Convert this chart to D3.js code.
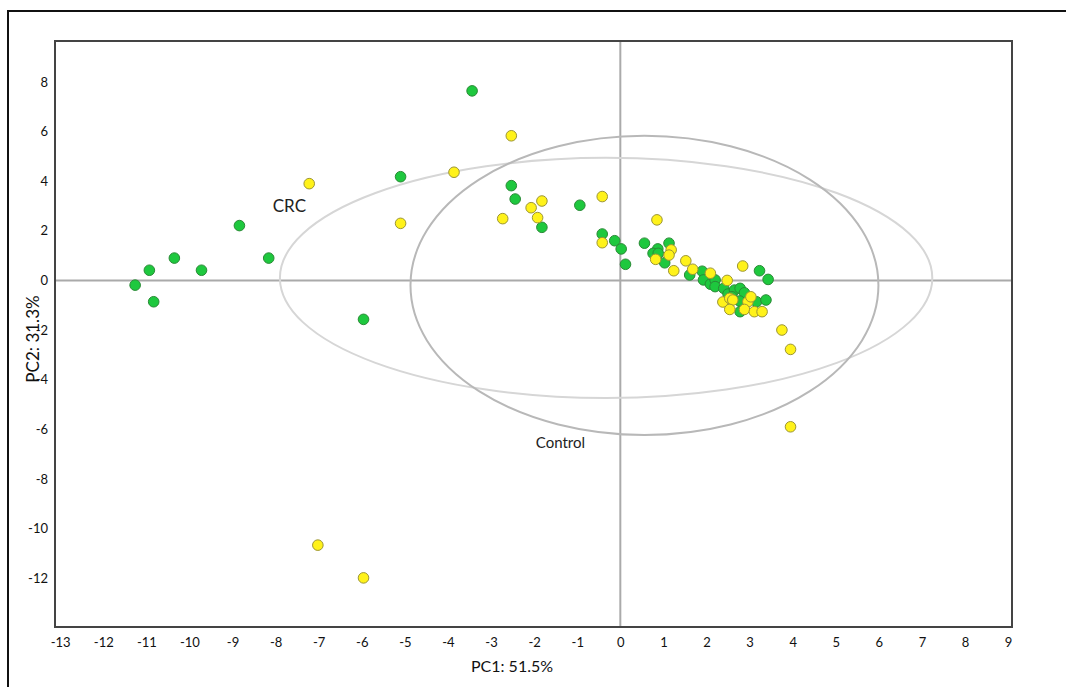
<!DOCTYPE html>
<html>
<head>
<meta charset="utf-8">
<script src="https://cdn.jsdelivr.net/npm/d3@7"></script>
<style>
  body { margin: 0; background: #fff; }
  svg { display: block; font-family: Lato, "Open Sans", sans-serif; }
</style>
</head>
<body>
<svg id="chart" width="1066" height="687"></svg>
<script>
// PC1 / PC2 scores
const greenX = [-3.44, -5.10, -2.53, -2.44, -1.82, -0.94, -0.42, -0.13, 0.02, 0.12,
  0.56, 0.87, 0.76, 0.88, 1.13, 1.03, 1.61, 1.90, 1.93, 2.09,
  2.20, 2.20, 2.40, 2.50, 2.65, 2.78, 2.88, 2.77, 3.16, 3.38,
  2.78, 3.23, 3.43, 2.59, -8.84, -8.16, -10.35, -10.93, -9.72, -11.26,
  -10.83, -5.96];
const greenY = [7.64, 4.18, 3.82, 3.28, 2.14, 3.03, 1.87, 1.60, 1.27, 0.65,
  1.50, 1.27, 1.09, 1.09, 1.50, 0.71, 0.22, 0.37, 0.02, -0.15,
  0.02, -0.25, -0.32, -0.55, -0.39, -0.32, -0.50, -0.83, -0.86, -0.79,
  -1.26, 0.39, 0.04, -0.66, 2.21, 0.90, 0.90, 0.41, 0.41, -0.19,
  -0.86, -1.57];

const yellowX = [-2.53, -3.86, -5.10, -7.22, -2.73, -2.07, -1.82, -1.92, -0.42, -0.42,
  0.85, 1.18, 1.13, 0.82, 1.24, 1.52, 1.68, 2.09, 2.48, 2.84,
  2.38, 2.54, 2.61, 2.54, 2.96, 3.03, 2.88, 3.11, 3.29, 3.75,
  3.95, 3.95, -7.02, -5.96];
const yellowY = [5.83, 4.36, 2.30, 3.90, 2.49, 2.93, 3.20, 2.53, 3.38, 1.52,
  2.44, 1.23, 1.02, 0.85, 0.39, 0.79, 0.45, 0.29, 0.00, 0.58,
  -0.87, -0.72, -0.79, -1.17, -0.86, -0.66, -1.17, -1.26, -1.26, -2.00,
  -2.78, -5.90, -10.67, -11.99];

// confidence ellipses: centre and semi-axes in PC units
const ellipseNames = ["CRC", "Control"];
const ellipseCx = [-0.33, 0.56];
const ellipseCy = [0.10, -0.20];
const ellipseRx = [7.57, 5.43];
const ellipseRy = [4.84, 6.03];
const ellipseLabelX = [-7.68, -1.39];
const ellipseLabelY = [3.0, -6.56];

const xTicks = d3.range(-13, 10, 1);
const yTicks = d3.range(-12, 9, 2);

const svg = d3.select("#chart");
const plotLeft = 55, plotTop = 41, plotRight = 1012, plotBottom = 627;

let x = d3.scaleLinear().domain([-13.12, 9.09]).range([plotLeft, plotRight]);
let y = d3.scaleLinear().domain([9.65, -13.97]).range([plotTop, plotBottom]);

// outer frame (runs off the page on the right and bottom)
svg.append("rect")
  .attr("x", 8).attr("y", 11)
  .attr("width", 1200).attr("height", 800)
  .attr("fill", "none")
  .attr("stroke", "#111")
  .attr("stroke-width", 2);

// zero lines
svg.append("line")
  .attr("x1", plotLeft).attr("x2", plotRight)
  .attr("y1", y(0)).attr("y2", y(0))
  .attr("stroke", "#aaa").attr("stroke-width", 2);
svg.append("line")
  .attr("x1", x(0)).attr("x2", x(0))
  .attr("y1", plotTop).attr("y2", plotBottom)
  .attr("stroke", "#aaa").attr("stroke-width", 2);

// ellipses
let ellipses = ellipseNames.map((name, i) => ({
  name: name,
  cx: ellipseCx[i], cy: ellipseCy[i],
  rx: ellipseRx[i], ry: ellipseRy[i],
  lx: ellipseLabelX[i], ly: ellipseLabelY[i]
}));

svg.append("g").selectAll("ellipse")
  .data(ellipses)
  .enter()
  .append("ellipse")
  .attr("cx", d => x(d.cx))
  .attr("cy", d => y(d.cy))
  .attr("rx", d => x(d.cx + d.rx) - x(d.cx))
  .attr("ry", d => y(d.cy - d.ry) - y(d.cy))
  .attr("fill", "none")
  .attr("stroke", d => d.name == "CRC" ? "#d6d6d6" : "#b8b8b8")
  .attr("stroke-width", 2);

svg.append("g").selectAll("text")
  .data(ellipses)
  .enter()
  .append("text")
  .attr("x", d => x(d.lx))
  .attr("y", d => y(d.ly))
  .attr("dy", "0.35em")
  .attr("text-anchor", "middle")
  .attr("font-size", d => d.name == "CRC" ? 17 : 15)
  .attr("fill", "#222")
  .text(d => d.name);

// points
let green = greenX.map((v, i) => ({ x: v, y: greenY[i] }));
let yellow = yellowX.map((v, i) => ({ x: v, y: yellowY[i] }));

svg.append("g").selectAll("circle")
  .data(green)
  .enter()
  .append("circle")
  .attr("cx", d => x(d.x))
  .attr("cy", d => y(d.y))
  .attr("r", 5.3)
  .attr("fill", "#1ec83e")
  .attr("stroke", "#2a8a36")
  .attr("stroke-width", 1);

svg.append("g").selectAll("circle")
  .data(yellow)
  .enter()
  .append("circle")
  .attr("cx", d => x(d.x))
  .attr("cy", d => y(d.y))
  .attr("r", 5.3)
  .attr("fill", "#fff21a")
  .attr("stroke", "#9c9535")
  .attr("stroke-width", 1);

// plot frame
svg.append("rect")
  .attr("x", plotLeft).attr("y", plotTop)
  .attr("width", plotRight - plotLeft).attr("height", plotBottom - plotTop)
  .attr("fill", "none")
  .attr("stroke", "#444")
  .attr("stroke-width", 2);

// axes: labels only, no tick marks or domain; plain hyphen for minus
let fmt = d => String(d);
let xAxis = svg.append("g")
  .attr("transform", `translate(0,${plotBottom + 8})`)
  .call(d3.axisBottom(x).tickValues(xTicks).tickSize(0).tickFormat(fmt));
let yAxis = svg.append("g")
  .attr("transform", `translate(${plotLeft - 4},0)`)
  .call(d3.axisLeft(y).tickValues(yTicks).tickSize(0).tickFormat(fmt));

[xAxis, yAxis].forEach(a => {
  a.select(".domain").remove();
  a.selectAll("text")
    .attr("font-family", "Lato, 'Open Sans', sans-serif")
    .attr("font-size", 13)
    .attr("fill", "#111");
});

svg.append("text")
  .attr("x", 512).attr("y", 672)
  .attr("text-anchor", "middle")
  .attr("font-size", 16)
  .attr("fill", "#111")
  .text("PC1: 51.5%");

svg.append("text")
  .attr("transform", "translate(39,339) rotate(-90)")
  .attr("text-anchor", "middle")
  .attr("font-size", 17)
  .attr("fill", "#111")
  .text("PC2: 31.3%");
</script>
</body>
</html>
